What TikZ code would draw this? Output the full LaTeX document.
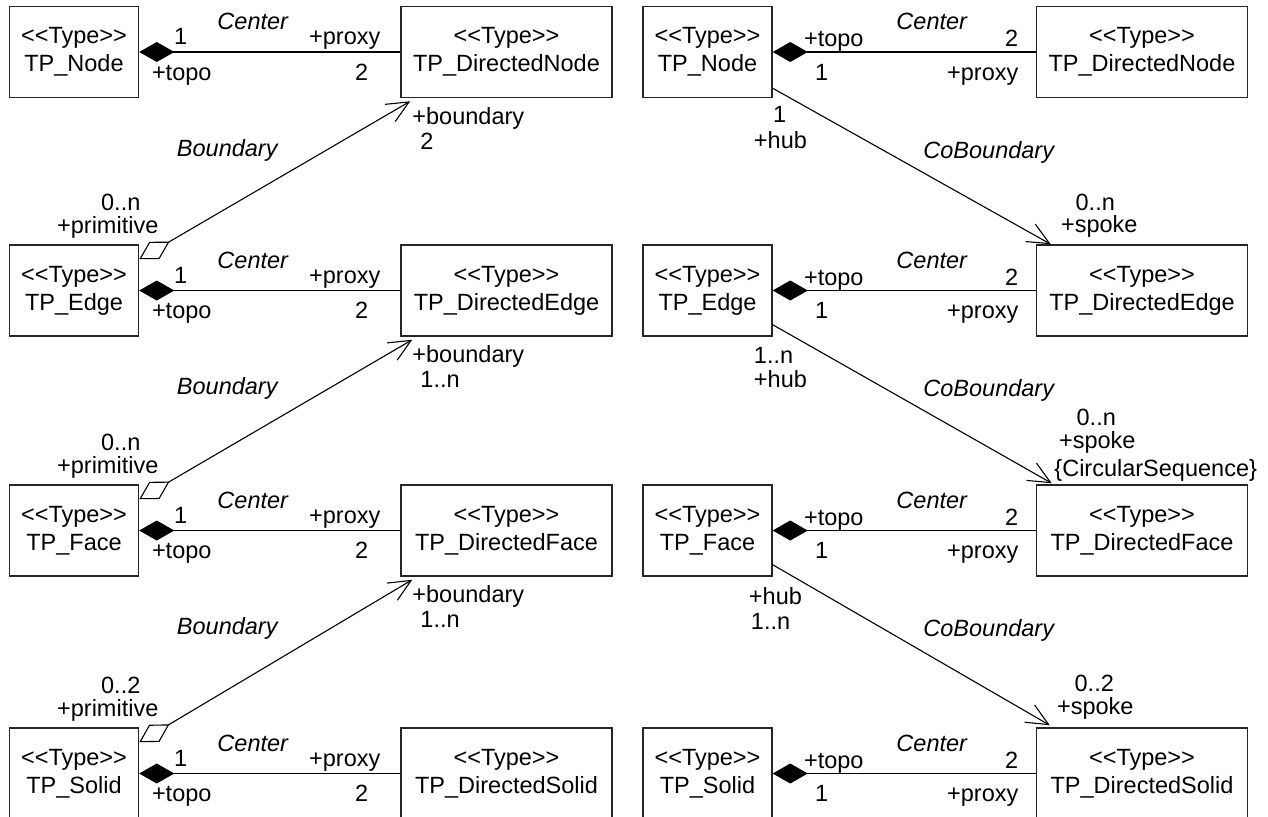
\documentclass[tikz,border=0pt]{standalone}
\usepackage{fontspec}
\newfontfamily\umlfont{Liberation Sans}
\usetikzlibrary{arrows.meta, calc, positioning}
\newcommand{\stype}{<<Type>>}
\tikzset{
  uml/.style={font=\umlfont\fontsize{23.5}{28}\selectfont},
  typebox/.style={uml, draw=black!85, line width=1.5pt, minimum height=91pt, inner sep=0pt, align=center},
  small/.style={typebox, minimum width=129pt},
  directed/.style={typebox, minimum width=211pt},
  role/.style={uml, inner sep=0pt, anchor=base},
  lrole/.style={role, anchor=base west},
  assoc/.style={role, font=\umlfont\itshape\fontsize{23.5}{28}\selectfont},
  comp/.style={{Diamond[length=35pt,width=20pt]}-, line width=1.1pt},
  aggr/.style={{Diamond[open,length=35pt,width=20pt]}-{Straight Barb[length=22pt,width=20pt]}, line width=1.1pt},
  nav/.style={-{Straight Barb[length=22pt,width=20pt]}, line width=1.1pt}
}

\begin{document}
\begin{tikzpicture}[x=1pt, y=-1pt]
  \useasboundingbox (0,0) rectangle (1268,816);

  % left column: primitives and their directed proxies
  \node[small]    (lnode)   at (74,52)      {\stype\\TP\_Node};
  \node[small]    (ledge)   at (74,290.5)   {\stype\\TP\_Edge};
  \node[small]    (lface)   at (74,530.5)   {\stype\\TP\_Face};
  \node[small]    (lsolid)  at (74,773.5)   {\stype\\TP\_Solid};
  \node[directed] (ldnode)  at (506.5,52)   {\stype\\TP\_DirectedNode};
  \node[directed] (ldedge)  at (506.5,290.5) {\stype\\TP\_DirectedEdge};
  \node[directed] (ldface)  at (506.5,530.5) {\stype\\TP\_DirectedFace};
  \node[directed] (ldsolid) at (506.5,773.5) {\stype\\TP\_DirectedSolid};

  % right column
  \node[small]    (rnode)   at (707.5,52)    {\stype\\TP\_Node};
  \node[small]    (redge)   at (707.5,290.5) {\stype\\TP\_Edge};
  \node[small]    (rface)   at (707.5,530.5) {\stype\\TP\_Face};
  \node[small]    (rsolid)  at (707.5,773.5) {\stype\\TP\_Solid};
  \node[directed] (rdnode)  at (1142,52)     {\stype\\TP\_DirectedNode};
  \node[directed] (rdedge)  at (1142,290.5)  {\stype\\TP\_DirectedEdge};
  \node[directed] (rdface)  at (1142,530.5)  {\stype\\TP\_DirectedFace};
  \node[directed] (rdsolid) at (1142,773.5)  {\stype\\TP\_DirectedSolid};

  % Center, left
  \draw[comp] (lnode.east) -- (ldnode.west);
  \draw[comp] (ledge.east) -- (ldedge.west);
  \draw[comp] (lface.east) -- (ldface.west);
  \draw[comp] (lsolid.east) -- (ldsolid.west);
  \foreach \b in {lnode, ledge, lface, lsolid} {
    \node[assoc] at ($(\b.east)+(113.5,-22)$) {Center};
    \node[role]  at ($(\b.east)+(41.5,-7)$)   {1};
    \node[role]  at ($(\b.east)+(205.5,-7)$)  {+proxy};
    \node[role]  at ($(\b.east)+(42.5,28)$)   {+topo};
    \node[role]  at ($(\b.east)+(222.5,28)$)  {2};
  }

  % Center, right
  \draw[comp] (rnode.east) -- (rdnode.west);
  \draw[comp] (redge.east) -- (rdedge.west);
  \draw[comp] (rface.east) -- (rdface.west);
  \draw[comp] (rsolid.east) -- (rdsolid.west);
  \foreach \b in {rnode, redge, rface, rsolid} {
    \node[assoc] at ($(\b.east)+(159,-22)$) {Center};
    \node[role]  at ($(\b.east)+(61,-5)$)   {+topo};
    \node[role]  at ($(\b.east)+(239,-5)$)  {2};
    \node[role]  at ($(\b.east)+(49,28)$)   {1};
    \node[role]  at ($(\b.east)+(210,28)$)  {+proxy};
  }

  % Boundary
  \draw[aggr] ($(ledge.north east)+(0,15)$) -- ($(ldnode.south west)+(10,3)$);
  \draw[aggr] ($(lface.north east)+(0,15)$) -- ($(ldedge.south west)+(12,3)$);
  \draw[aggr] ($(lsolid.north east)+(0,15)$) -- ($(ldface.south west)+(12,3)$);
  \foreach \d/\p/\m/\n in {ldnode/ledge/2/0..n, ldedge/lface/1..n/0..n, ldface/lsolid/1..n/0..2} {
    \node[lrole] at ($(\d.south west)+(12,26)$)  {+boundary};
    \node[lrole] at ($(\d.south west)+(20,51)$)  {\m};
    \node[assoc] at ($(\d.south west)+(-173,58)$) {Boundary};
    \node[role]  at ($(\p.north east)+(-18.5,-34)$) {\n};
    \node[role]  at ($(\p.north east)+(-31.5,-11)$) {+primitive};
  }

  % CoBoundary
  \draw[nav] ($(rnode.south east)+(0,-10)$) -- ($(rdedge.north west)+(15,0)$);
  \draw[nav] ($(redge.south east)+(0,-12)$) -- ($(rdface.north west)+(16,-1)$);
  \draw[nav] ($(rface.south east)+(0,-12)$) -- ($(rdsolid.north west)+(14,-2)$);
  \foreach \h in {rnode, redge, rface}
    \node[assoc] at ($(\h.south east)+(216,60)$) {CoBoundary};

  \node[role]  at ($(rnode.south east)+(7,24)$)   {1};
  \node[lrole] at ($(rnode.south east)+(-19,50)$) {+hub};
  \node[role]  at ($(rdedge.north west)+(59.5,-34)$) {0..n};
  \node[role]  at ($(rdedge.north west)+(63.5,-12)$) {+spoke};

  \node[lrole] at ($(redge.south east)+(-19,27)$) {1..n};
  \node[lrole] at ($(redge.south east)+(-19,51)$) {+hub};
  \node[role]  at ($(rdface.north west)+(60.5,-59)$) {0..n};
  \node[role]  at ($(rdface.north west)+(61.5,-36)$) {+spoke};
  \node[lrole] at ($(rdface.north west)+(18.5,-8)$)  {\{CircularSequence\}};

  \node[lrole] at ($(rface.south east)+(-24,28)$) {+hub};
  \node[lrole] at ($(rface.south east)+(-22,53)$) {1..n};
  \node[role]  at ($(rdsolid.north west)+(58.5,-36)$) {0..2};
  \node[role]  at ($(rdsolid.north west)+(59.5,-13)$) {+spoke};
\end{tikzpicture}
\end{document}
